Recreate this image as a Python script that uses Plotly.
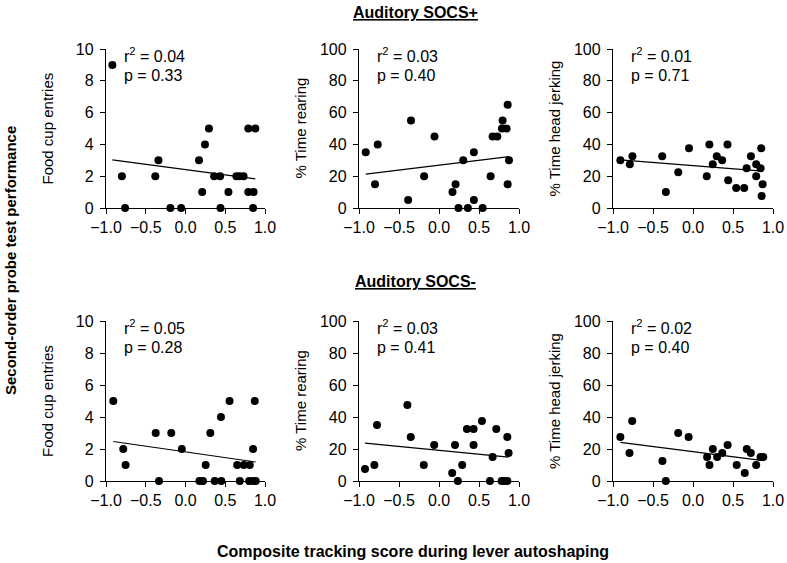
import numpy as np
import plotly.graph_objects as go

# composite tracking score (x) and probe test measures (y)
score_fc_plus = [-0.92, -0.80, -0.76, -0.38, -0.34, -0.19, -0.055, 0.17, 0.21, 0.245, 0.295,
                 0.36, 0.435, 0.44, 0.54, 0.64, 0.68, 0.73, 0.79, 0.79, 0.856, 0.878, 0.85]
fc_plus = [9, 2, 0, 2, 3, 0, 0, 3, 1, 4, 5, 2, 2, 0, 1, 2, 2, 2, 5, 1, 1, 5, 0]

score_rear_plus = [-0.916, -0.80, -0.766, -0.386, -0.35, -0.186, -0.056, 0.169, 0.207, 0.244,
                   0.303, 0.361, 0.436, 0.436, 0.545, 0.645, 0.67, 0.729, 0.795, 0.787, 0.845,
                   0.858, 0.858, 0.875]
rear_plus = [35, 15, 40, 5, 55, 20, 45, 10, 15, 0, 30, 0, 35, 5, 0, 20, 45, 45, 55, 50, 50, 15, 65, 30]

score_jerk_plus = [-0.908, -0.79, -0.757, -0.385, -0.339, -0.184, -0.05, 0.172, 0.205, 0.247,
                   0.297, 0.364, 0.431, 0.44, 0.54, 0.64, 0.67, 0.724, 0.79, 0.79, 0.845,
                   0.853, 0.87, 0.858]
jerk_plus = [30, 27.5, 32.5, 32.5, 10, 22.5, 37.5, 20, 40, 27.5, 32.5, 30, 40, 17.5, 12.5, 12.5,
             25, 32.5, 27.5, 20, 25, 37.5, 15, 7.5]

score_fc_minus = [-0.908, -0.783, -0.754, -0.375, -0.333, -0.179, -0.046, 0.175, 0.22, 0.254,
                  0.3125, 0.367, 0.446, 0.45, 0.554, 0.65, 0.683, 0.733, 0.808, 0.80, 0.85,
                  0.871, 0.85, 0.883]
fc_minus = [5, 2, 1, 3, 0, 3, 2, 0, 0, 1, 3, 0, 4, 0, 5, 1, 0, 1, 1, 0, 2, 5, 0, 0]

score_rear_minus = [-0.925, -0.808, -0.775, -0.395, -0.353, -0.19, -0.06, 0.165, 0.2, 0.236,
                    0.29, 0.349, 0.432, 0.432, 0.537, 0.637, 0.67, 0.716, 0.783, 0.816, 0.854,
                    0.854, 0.87]
rear_minus = [7.5, 10, 35, 47.5, 27.5, 10, 22.5, 5, 22.5, 0, 10, 32.5, 32.5, 22.5, 37.5, 0, 15,
              32.5, 0, 0, 0, 27.5, 17.5]

score_jerk_minus = [-0.908, -0.794, -0.76, -0.382, -0.34, -0.185, -0.055, 0.176, 0.206, 0.248,
                    0.302, 0.366, 0.433, 0.546, 0.647, 0.672, 0.723, 0.79, 0.844, 0.878]
jerk_minus = [27.5, 17.5, 37.5, 12.5, 0, 30, 27.5, 15, 10, 20, 15, 17.5, 22.5, 10, 5, 20, 17.5,
              10, 15, 15]

y_labels = ["Food cup entries", "% Time rearing", "% Time head jerking"]
r2_text = ["0.04", "0.03", "0.01", "0.05", "0.03", "0.02"]
p_text = ["0.33", "0.40", "0.71", "0.28", "0.41", "0.40"]
y_max = [10, 100, 100]
y_step = [2, 20, 20]

W, H = 787, 563
FONT = "Liberation Sans, Arial, sans-serif"

panels = [
    (score_fc_plus, fc_plus), (score_rear_plus, rear_plus), (score_jerk_plus, jerk_plus),
    (score_fc_minus, fc_minus), (score_rear_minus, rear_minus), (score_jerk_minus, jerk_minus),
]

# pixel layout of the panels
col_px = [(106, 265), (359, 519), (613, 773)]
row_px = [(49, 208), (321, 481)]


def px(x):
    return x / W


def py(y):
    return 1 - y / H


fig = go.Figure()
annotations = []

for i, (xs, ys) in enumerate(panels):
    r, c = divmod(i, 3)
    n = i + 1
    xa = "x" if n == 1 else "x%d" % n
    ya = "y" if n == 1 else "y%d" % n

    fig.add_trace(go.Scatter(x=xs, y=ys, mode="markers", xaxis=xa, yaxis=ya,
                             marker=dict(color="black", size=8), cliponaxis=False,
                             showlegend=False, hoverinfo="x+y"))

    # least squares line across the data
    slope, icpt = np.polyfit(xs, ys, 1)
    lx = np.array([min(xs), max(xs)])
    fig.add_trace(go.Scatter(x=lx, y=slope * lx + icpt, mode="lines", xaxis=xa, yaxis=ya,
                             line=dict(color="black", width=1.2), showlegend=False,
                             hoverinfo="skip"))

    x0, x1 = col_px[c]
    y0, y1 = row_px[r]
    axis_style = dict(showline=True, linecolor="black", linewidth=1.3, ticks="outside",
                      ticklen=5, tickwidth=1.3, tickcolor="black", showgrid=False,
                      zeroline=False, automargin=False,
                      tickfont=dict(size=16, color="black", family=FONT))
    fig.update_layout(**{
        ("xaxis" if n == 1 else "xaxis%d" % n): dict(
            domain=[px(x0), px(x1)], range=[-1, 1], anchor=ya, tickvals=[-1, -0.5, 0, 0.5, 1],
            tickformat=".1f", **axis_style),
        ("yaxis" if n == 1 else "yaxis%d" % n): dict(
            domain=[py(y1), py(y0)], range=[0, y_max[c]], anchor=xa, dtick=y_step[c],
            ticklabelstandoff=3, **axis_style),
    })

    annotations.append(dict(xref="paper", yref="paper", x=px(x0 - 59), y=py((y0 + y1) / 2),
                            text=y_labels[c], textangle=-90, showarrow=False,
                            xanchor="center", yanchor="middle",
                            font=dict(size=15, color="black", family=FONT)))
    annotations.append(dict(xref="paper", yref="paper", x=px(x0 + 16), y=py(y0 + 6),
                            text="r<sup>2</sup> = " + r2_text[i], showarrow=False,
                            xanchor="left", yanchor="middle",
                            font=dict(size=16, color="black", family=FONT)))
    annotations.append(dict(xref="paper", yref="paper", x=px(x0 + 16), y=py(y0 + 26),
                            text="p = " + p_text[i], showarrow=False,
                            xanchor="left", yanchor="middle",
                            font=dict(size=16, color="black", family=FONT)))

bold = dict(color="black", family=FONT)
annotations += [
    dict(xref="paper", yref="paper", x=px(415), y=py(12), text="<b><u>Auditory SOCS+</u></b>",
         showarrow=False, xanchor="center", yanchor="middle", font=dict(size=16, **bold)),
    dict(xref="paper", yref="paper", x=px(415), y=py(281), text="<b><u>Auditory SOCS-</u></b>",
         showarrow=False, xanchor="center", yanchor="middle", font=dict(size=16, **bold)),
    dict(xref="paper", yref="paper", x=px(413), y=py(551),
         text="<b>Composite tracking score during lever autoshaping</b>",
         showarrow=False, xanchor="center", yanchor="middle", font=dict(size=16, **bold)),
    dict(xref="paper", yref="paper", x=px(10), y=py(261),
         text="<b>Second-order probe test performance</b>", textangle=-90,
         showarrow=False, xanchor="center", yanchor="middle", font=dict(size=15, **bold)),
]

fig.update_layout(template="none", width=W, height=H, margin=dict(l=0, r=0, t=0, b=0),
                  paper_bgcolor="white", plot_bgcolor="white",
                  font=dict(family=FONT, color="black"), annotations=annotations)

# drop the page's default body margin so the figure sits flush with the window
fig.write_html("out.html", config={"displayModeBar": False},
               post_script="document.body.style.margin = '0';")
